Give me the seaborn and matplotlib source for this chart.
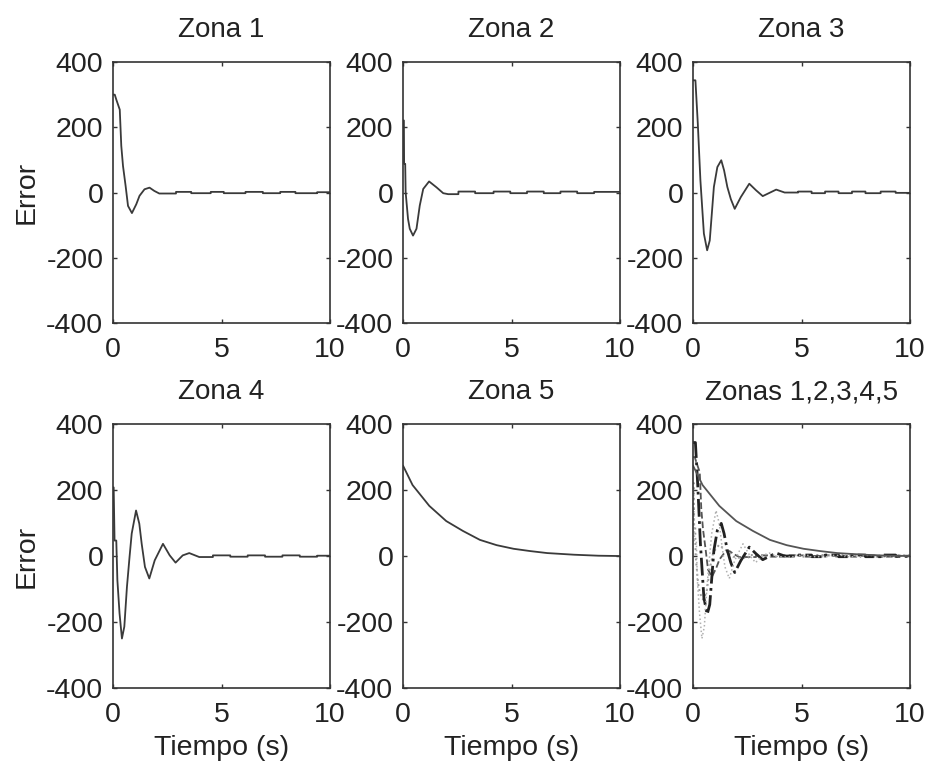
import matplotlib
matplotlib.use("Agg")
import matplotlib.pyplot as plt
import seaborn as sns
import numpy as np
import pandas as pd

# ---------------- data ----------------
t_z1 = [0, 0.08, 0.15, 0.31, 0.38, 0.46, 0.58, 0.69, 0.87, 1.07, 1.22, 1.45, 1.68, 1.9, 2.13,
        2.9, 2.9, 3.6, 3.6, 4.5, 4.5, 5.1, 5.1, 6.1, 6.1, 6.9, 6.9, 7.7, 7.7, 8.4, 8.4, 9.4, 9.4, 10]
e_z1 = [300, 300, 285, 254, 143, 81, 20, -41, -63, -36, -10, 10, 15, 5, -3,
        -3, 2, 2, -2, -2, 2, 2, -2, -2, 2, 2, -2, -2, 2, 2, -2, -2, 1, 1]

t_z2 = [0, 0.04, 0.05, 0.1, 0.12, 0.23, 0.31, 0.46, 0.62, 0.77, 0.93, 1.2, 1.54, 1.85, 2.08,
        2.55, 2.55, 3.32, 3.32, 4.17, 4.17, 4.94, 4.94, 5.71, 5.71, 6.48, 6.48, 7.25, 7.25,
        8.02, 8.02, 8.8, 8.8, 10]
e_z2 = [221, 221, 88, 88, 1, -81, -111, -132, -111, -40, 11, 34, 16, -2, -5,
        -5, 3, 3, -2, -2, 3, 3, -2, -2, 3, 3, -2, -2, 3, 3, -2, -2, 2, 2]

t_z3 = [0, 0.11, 0.22, 0.34, 0.5, 0.65, 0.77, 0.96, 1.12, 1.3, 1.43, 1.58, 1.74, 1.92, 2.2,
        2.59, 2.9, 3.21, 3.83, 4.22, 4.84, 4.84, 5.46, 5.46, 6.08, 6.08, 6.7, 6.7, 7.32, 7.32,
        7.94, 7.94, 8.64, 8.64, 9.33, 9.33, 10]
e_z3 = [344, 344, 211, 37, -126, -177, -147, 17, 78, 99, 68, 17, -20, -50, -14,
        27, 7, -11, 9, 0, 0, 3, 3, -2, -2, 3, 3, -2, -2, 3, 3, -2, -2, 3, 3, -1, -1]

t_z4 = [0, 0.03, 0.07, 0.15, 0.2, 0.3, 0.41, 0.52, 0.64, 0.76, 0.86, 1.06, 1.21, 1.32, 1.47,
        1.67, 1.92, 2.3, 2.61, 2.88, 3.21, 3.51, 3.97, 4.6, 4.6, 5.4, 5.4, 6.2, 6.2, 7.0, 7.0,
        7.8, 7.8, 8.6, 8.6, 9.4, 9.4, 10]
e_z4 = [208, 208, 47, 47, -73, -174, -250, -214, -94, -3, 68, 138, 98, 37, -33,
        -68, -13, 37, 2, -20, 2, 9, -3, -3, 2, 2, -2, -2, 2, 2, -2, -2, 2, 2, -2, -2, 1, 1]

t_z5 = [0, 0.44, 1.21, 1.99, 2.76, 3.54, 4.31, 5.09, 5.86, 6.64, 7.88, 9.0, 10]
e_z5 = [274, 215, 152, 106, 76, 49, 33, 22, 15, 9, 4, 1, 0]

zone_titles = ["Zona 1", "Zona 2", "Zona 3", "Zona 4", "Zona 5", "Zonas 1,2,3,4,5"]
x_ticks = [0, 5, 10]
y_ticks = [-400, -200, 0, 200, 400]
x_label = "Tiempo (s)"
y_label = "Error"

series = [(t_z1, e_z1), (t_z2, e_z2), (t_z3, e_z3), (t_z4, e_z4), (t_z5, e_z5)]

# ---------------- style ----------------
sns.set_style("ticks")
plt.rcParams['font.family'] = ['Liberation Sans', 'DejaVu Sans']
plt.rcParams['axes.unicode_minus'] = False
plt.rcParams['axes.edgecolor'] = '#333333'
plt.rcParams['axes.linewidth'] = 1.2

fig = plt.figure(figsize=(9.28, 7.66), dpi=100)

W = 0.234
lefts = [0.1218, 0.4343, 0.7468]
rows = [(0.5783, 0.3407), (0.1018, 0.3446)]

line_col = '#3a3a3a'
axes = []
for r in range(2):
    for c in range(3):
        b, h = rows[r]
        ax = fig.add_axes([lefts[c], b, W, h])
        axes.append(ax)

for i, ax in enumerate(axes):
    if i < 5:
        t, e = series[i]
        df = pd.DataFrame({"t": t, "e": e})
        sns.lineplot(data=df, x="t", y="e", ax=ax, estimator=None, sort=False,
                     color=line_col, linewidth=1.3)
    else:
        styles = [
            dict(color='#555555', linestyle='--', linewidth=1.3),
            dict(color='#9a9a9a', linestyle=':', linewidth=1.4),
            dict(color='#222222', linestyle='-.', linewidth=2.0),
            dict(color='#b0b0b0', linestyle=':', linewidth=1.1),
            dict(color='#555555', linestyle='-', linewidth=1.3),
        ]
        for k, (t, e) in enumerate(series):
            df = pd.DataFrame({"t": t, "e": e})
            sns.lineplot(data=df, x="t", y="e", ax=ax, estimator=None, sort=False, **styles[k])
    ax.set_xlim(0, 10)
    ax.set_ylim(-400, 400)
    ax.set_xticks(x_ticks)
    ax.set_yticks(y_ticks)
    ax.tick_params(direction='in', top=True, right=True, length=3, width=1,
                   labelsize=20.5, colors='#333333', labelcolor='#222222')
    ax.tick_params(axis='x', pad=10)
    ax.tick_params(axis='y', pad=7)
    ax.set_title(zone_titles[i], fontsize=20, pad=18, color='#222222')
    ax.set_xlabel(x_label if i >= 3 else "", fontsize=20.5, labelpad=5, color='#222222')
    ax.set_ylabel(y_label if i % 3 == 0 else "", fontsize=20.5, labelpad=5, color='#222222')
    for s in ax.spines.values():
        s.set_visible(True)
        s.set_color('#333333')

fig.savefig("out.png", dpi=100, facecolor='white')
